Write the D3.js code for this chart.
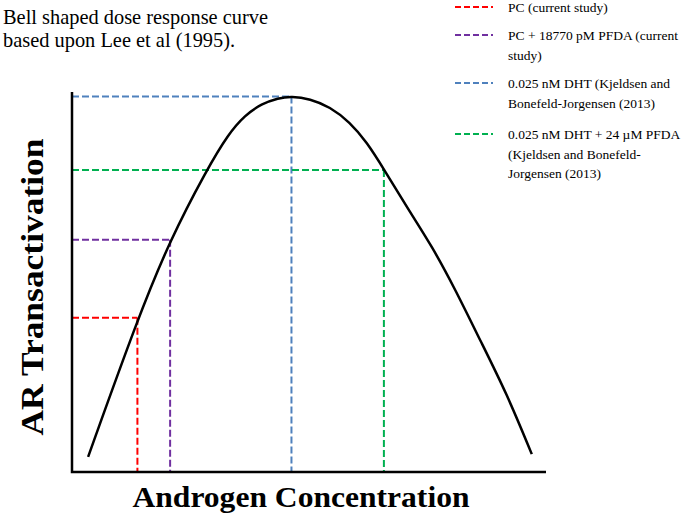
<!DOCTYPE html>
<html><head><meta charset="utf-8">
<script src="https://cdn.jsdelivr.net/npm/d3@7"></script>
<style>body{margin:0;background:#fff}svg{display:block}text{font-family:'Liberation Serif','Times New Roman',serif}</style>
</head><body>
<script>
// Bell-shaped curve (arbitrary units: concentration 0-100, response 0-100)
const curveX = [3.4, 13.9, 20.7, 28.4, 33.0, 36.5, 40.0, 43.5, 46.3, 50.2, 54.4, 58.6, 62.2, 65.8, 71.3, 75.9, 80.8, 86.1, 91.7, 97.0];
const curveY = [4.0, 40.5, 61.1, 79.5, 89.0, 93.9, 96.9, 98.4, 98.9, 98.2, 96.1, 92.1, 86.8, 79.7, 68.4, 59.5, 48.2, 34.7, 20.7, 4.7];
// Reference points marked by dashed guides
const refLabels = [
  ["PC (current study)"],
  ["PC + 18770 pM PFDA (current", "study)"],
  ["0.025 nM DHT (Kjeldsen and", "Bonefeld-Jorgensen (2013)"],
  ["0.025 nM DHT + 24 \u00b5M PFDA", "(Kjeldsen and Bonefeld-", "Jorgensen (2013)"]
];
const refX = [13.8, 20.7, 46.3, 65.8];
const refY = [40.6, 61.1, 98.8, 79.5];
const refColors = ["#ff0000", "#7030a0", "#4f81bd", "#00b050"];
const titleLines = ["Bell shaped dose response curve", "based upon Lee et al (1995)."];

const W = 685, H = 520;
const svg = d3.select("body").append("svg").attr("width", W).attr("height", H);
const x = d3.scaleLinear().domain([0, 100]).range([72, 546]);
const y = d3.scaleLinear().domain([0, 100]).range([472, 92]);

// dashed guides
refX.forEach((rx, i) => {
  const g = svg.append("g").attr("stroke", refColors[i]).attr("stroke-width", 2)
    .attr("stroke-dasharray", "7,3").attr("fill", "none");
  g.append("path").attr("d", d3.line()([[x(0), y(refY[i])], [x(rx), y(refY[i])]]));
  g.append("path").attr("d", d3.line()([[x(rx), y(refY[i])], [x(rx), y(0)]]));
});

// curve
const pts = curveX.map((v, i) => [v, curveY[i]]);
svg.append("path").datum(pts)
  .attr("d", d3.line().x(d => x(d[0])).y(d => y(d[1])).curve(d3.curveBasis))
  .attr("fill", "none").attr("stroke", "#000").attr("stroke-width", 2.5);

// axes
svg.append("path").attr("d", d3.line()([[x(0), y(100)], [x(0), y(0)], [x(100), y(0)]]))
  .attr("fill", "none").attr("stroke", "#000").attr("stroke-width", 2.5);

// title
svg.append("text").attr("font-size", 20.4).attr("fill", "#000")
  .selectAll("tspan").data(titleLines).join("tspan")
  .attr("x", 3).attr("y", (d, i) => 24 + i * 23).text(d => d);

// axis labels
svg.append("text").attr("font-weight", "bold").attr("font-size", 29).attr("text-anchor", "middle")
  .attr("x", 301).attr("y", 507).attr("textLength", 337).attr("lengthAdjust", "spacingAndGlyphs")
  .text("Androgen Concentration");
svg.append("text").attr("font-weight", "bold").attr("font-size", 32).attr("text-anchor", "middle")
  .attr("transform", "translate(43,287) rotate(-90)").attr("textLength", 297).attr("lengthAdjust", "spacingAndGlyphs")
  .text("AR Transactivation");

// legend
const legY = [7, 35, 83, 134];
const leg = svg.append("g");
refLabels.forEach((lines, i) => {
  leg.append("line").attr("x1", 455).attr("x2", 493).attr("y1", legY[i]).attr("y2", legY[i])
    .attr("stroke", refColors[i]).attr("stroke-width", 2).attr("stroke-dasharray", "6,3");
  leg.append("text").attr("font-size", 13.5).attr("fill", "#000")
    .selectAll("tspan").data(lines).join("tspan")
    .attr("x", 508).attr("y", (d, j) => legY[i] + 5 + j * 19.5).text(d => d);
});
</script>
</body></html>
